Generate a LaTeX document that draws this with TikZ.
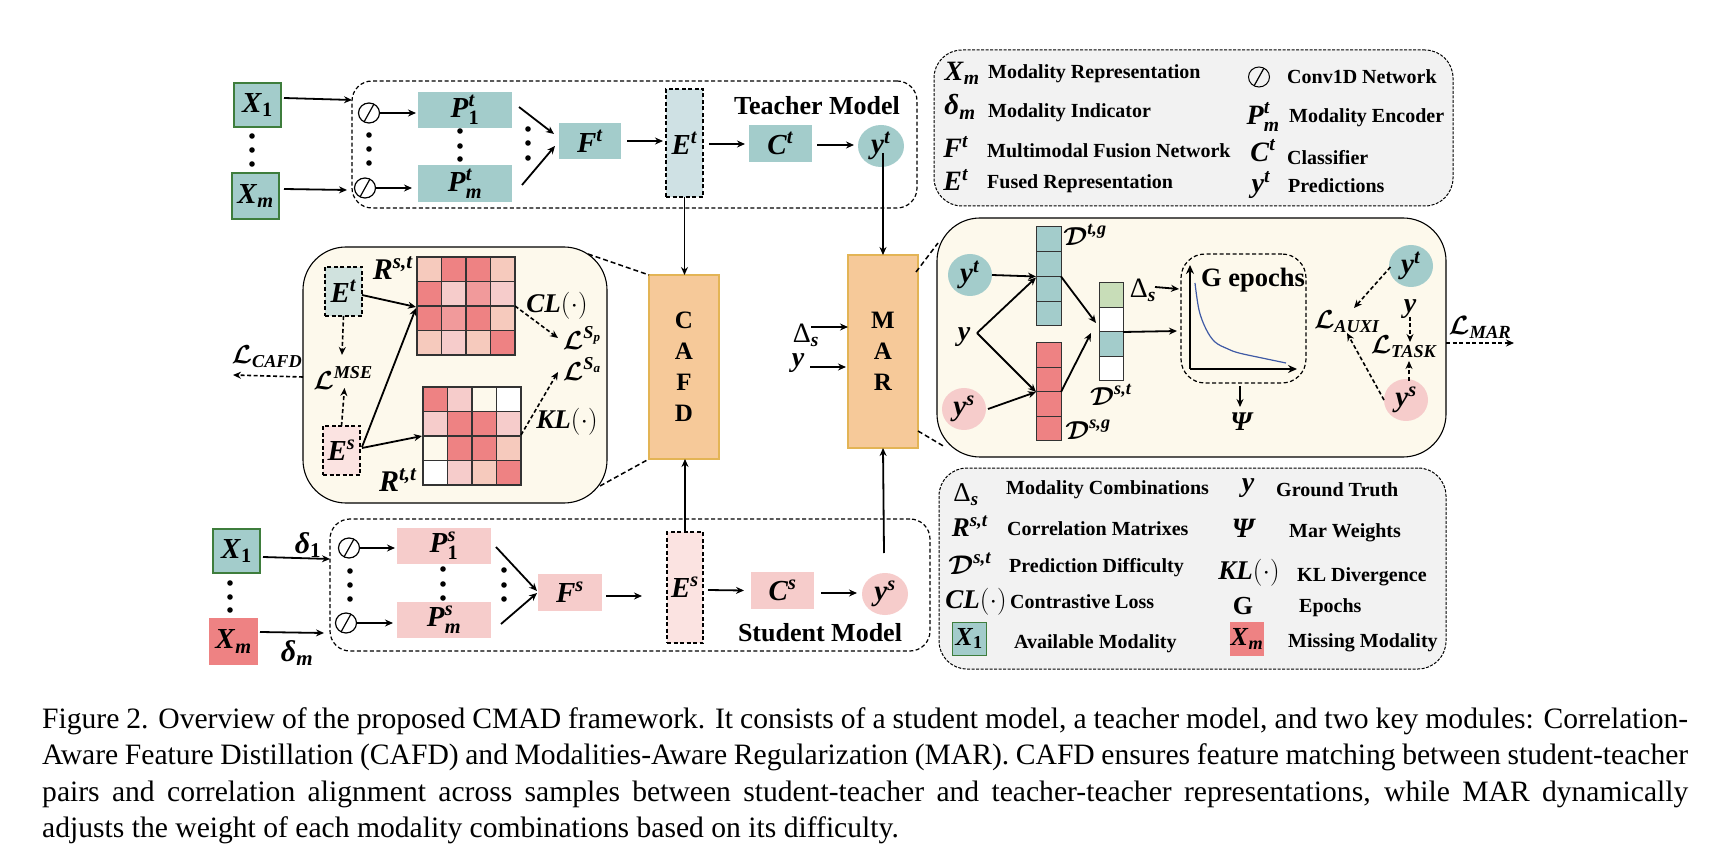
\documentclass[tikz,border=0pt]{standalone}
\usepackage{fix-cm}
\usepackage{amsmath}
\usepackage{fontspec}
\setmainfont{Liberation Serif}
\usetikzlibrary{arrows.meta,shapes.geometric}
\definecolor{teal1}{HTML}{A3CCCB}
\definecolor{green1}{HTML}{3E7D3C}
\definecolor{mr}{HTML}{EE8283}
\definecolor{pk}{HTML}{F6CCCB}
\definecolor{mp}{HTML}{F6CABD}
\definecolor{mm}{HTML}{F19A9B}
\definecolor{mc}{HTML}{FDF9EC}
\definecolor{orng}{HTML}{F6C999}
\definecolor{orngb}{HTML}{E3B455}
\definecolor{etf}{HTML}{CFE1E4}
\definecolor{etp}{HTML}{D0E2DE}
\definecolor{esf}{HTML}{FBE3E1}
\definecolor{lgray}{HTML}{F2F2F2}
\definecolor{gcell}{HTML}{C8DDB8}
\definecolor{ccurve}{HTML}{3F5AA5}
\newcommand\mi[1]{\textbf{\textit{#1}}}
\newcommand\lc{\boldsymbol{\mathcal{L}}}
\newcommand\dc{\boldsymbol{\mathcal{D}}}
\newcommand\bx[7]{\node[#1,minimum width={#5-#3},minimum height={#6-#4}] (#2) at ({(#3+#5)/2},{(#4+#6)/2}) {#7};}
\newcommand\el[7]{\node[#1,minimum width={2*#5},minimum height={2*#6}] (#2) at (#3,#4) {#7};}
\newcommand\lb[5]{\node[inner sep=0,font=\fontsize{#4}{#4}\selectfont] (#1) at (#2,#3) {#5};}
\newcommand\lgt[4]{\node[inner sep=0,anchor=west,font=\bfseries\fontsize{20}{20}\selectfont] (#1) at (#2,#3+1.5) {#4};}
\newcommand\dt[4]{\foreach \yy in {#2,#3,#4} \fill (#1,\yy) circle (2.8pt);}
\newcommand\cells[4]{% x0 y0 cell rows-of colours
  \foreach \rw [count=\j from 0] in {#4} {\foreach \cc [count=\i from 0] in \rw {
    \draw[line width=1.2pt,draw=black!80,fill=\cc] ({#1+\i*#3},{#2+\j*#3}) rectangle ++(#3,#3);}}}
\newcommand\barc[5]{% x0 y0 w h colours
  \foreach \cc [count=\j from 0] in {#5} {\draw[line width=1pt,draw=black!80,fill=\cc] (#1,{#2+\j*#4}) rectangle ++(#3,#4);}}
\tikzset{
  nbase/.style={inner sep=0,outer sep=0,font=\fontsize{29}{29}\selectfont},
  tbox/.style={nbase,fill=teal1},
  sbox/.style={nbase,fill=pk},
  xbox/.style={nbase,fill=teal1,draw=green1,line width=1.4pt},
  mbox/.style={nbase,fill=mr},
  dbox/.style={nbase,draw=black,line width=1.2pt,dash pattern=on 4pt off 2.5pt},
  oval/.style={nbase,ellipse},
  conv/.style={ellipse,inner sep=0,outer sep=0,draw=black,line width=1.2pt,fill=white,minimum width=21pt,minimum height=20pt,
    path picture={\draw[line width=1.2pt] ([shift={(-5,9)}]path picture bounding box.center) -- ([shift={(5,-9)}]path picture bounding box.center);}},
  modbox/.style={rounded corners=20pt,dbox},
  panel/.style={inner sep=0,outer sep=0,draw=black,line width=1.1pt,fill=mc},
  legendbox/.style={inner sep=0,outer sep=0,draw=black,line width=1pt,dash pattern=on 3pt off 1.5pt,fill=lgray,rounded corners=28pt},
  bigbox/.style={inner sep=0,outer sep=0,fill=orng,draw=orngb,line width=1.2pt,align=center,font=\bfseries\fontsize{25}{31}\selectfont},
  arr/.style={line width=1.8pt,-{Stealth[length=8pt,width=7pt]}},
  darr/.style={line width=1.6pt,dash pattern=on 4pt off 2.5pt,-{Stealth[length=8pt,width=7pt]}},
  dln/.style={line width=1.5pt,dash pattern=on 5pt off 3pt},
  captxt/.style={inner sep=0,anchor=base west,font=\fontsize{29.6}{36}\selectfont},
}
\begin{document}
\begin{tikzpicture}[x=1pt,y=-1pt]
\useasboundingbox (0,0) rectangle (1714,858);
\fill[white] (0,0) rectangle (1714,858);

% --- legends
\bx{legendbox}{LegA}{934}{50}{1453}{206}{}
\bx{legendbox}{LegB}{939}{468}{1446}{669}{}

% --- teacher
\bx{modbox}{Tbox}{352}{81}{917}{208}{}
\bx{xbox}{Xa}{234}{83}{281}{127}{$\mi{X}_{\textbf{1}}$}
\bx{xbox}{Xb}{232}{173}{279}{219}{$\mi{X}_{\mi{m}}$}
\dt{252}{136}{150}{164}
\node[conv] (ca) at (369,113) {};
\node[conv] (cb) at (365,188) {};
\dt{369}{135}{149}{163}
\bx{tbox}{Pa}{418}{92}{512}{128}{$\mi{P}_{\textbf{1}}^{\mi{t}}$}
\bx{tbox}{Pb}{418}{165}{512}{202}{$\mi{P}_{\mi{m}}^{\mi{t}}$}
\dt{460}{131}{146}{159}
\dt{528}{129}{143}{158}
\bx{tbox}{Ft}{559}{123}{621}{159}{$\mi{F}^{\mi{t}}$}
\bx{dbox,fill=etf}{Et}{666}{89}{703}{197}{$\mi{E}^{\mi{t}}$}
\bx{tbox}{Ct}{749}{125}{812}{162}{$\mi{C}^{\mi{t}}$}
\el{oval,fill=teal1}{yt}{881}{146}{23}{21}{$\mi{y}^{\mi{t}}$}
\node[inner sep=0,font=\bfseries\fontsize{26}{26}\selectfont] (Tlab) at (817,106) {Teacher Model};
\draw[arr] ([shift={(3,-7)}]Xa.east) -- ([shift={(0,-44.5)}]Tbox.west);
\draw[arr] ([shift={(5,-7)}]Xb.east) -- ([shift={(-5,45.5)}]Tbox.west);
\draw[arr] (ca.east) -- ([shift={(-2,3)}]Pa.west);
\draw[arr] (cb.east) -- ([shift={(-6,4.5)}]Pb.west);
\draw[arr] ([shift={(7,-3)}]Pa.east) -- ([shift={(-5,-7)}]Ft.west);
\draw[arr] ([shift={(10,1.5)}]Pb.east) -- ([shift={(-4,5)}]Ft.west);
\draw[arr] ([shift={(6,0)}]Ft.east) -- ([shift={(-3,-2)}]Et.west);
\draw[arr] ([shift={(6,1)}]Et.east) -- ([shift={(-4,0.5)}]Ct.west);
\draw[arr] ([shift={(5,1.5)}]Ct.east) -- ([shift={(-4,-1)}]yt.west);

% --- student
\bx{modbox}{Sbox}{330}{519}{930}{651}{}
\bx{xbox}{Xc}{213}{529}{260}{573}{$\mi{X}_{\textbf{1}}$}
\bx{mbox}{Xd}{209}{618}{258}{665}{$\mi{X}_{\mi{m}}$}
\dt{230}{583}{597}{610}
\lb{da}{308}{545}{30}{$\mi{δ}_{\textbf{1}}$}
\lb{db}{297}{653}{30}{$\mi{δ}_{\mi{m}}$}
\node[conv] (cc) at (349,548) {};
\node[conv] (cd) at (346,623) {};
\dt{350}{571}{585}{599}
\bx{sbox}{Pc}{397}{528}{491}{564}{$\mi{P}_{\textbf{1}}^{\mi{s}}$}
\bx{sbox}{Pd}{397}{602}{491}{638}{$\mi{P}_{\mi{m}}^{\mi{s}}$}
\dt{443}{569}{584}{598}
\dt{504}{570}{585}{599}
\bx{sbox}{Fs}{538}{574}{602}{611}{$\mi{F}^{\mi{s}}$}
\bx{dbox,fill=esf}{Es}{667}{532}{703}{643}{$\mi{E}^{\mi{s}}$}
\bx{sbox}{Cs}{751}{572}{814}{609}{$\mi{C}^{\mi{s}}$}
\el{oval,fill=pk}{ys}{885}{594}{23}{21}{$\mi{y}^{\mi{s}}$}
\node[inner sep=0,font=\bfseries\fontsize{26}{26}\selectfont] (Slab) at (820,633) {Student Model};
\draw[arr] ([shift={(3,6)}]Xc.east) -- ([shift={(0,-26)}]Sbox.west);
\draw[arr] ([shift={(2,-9.5)}]Xd.east) -- ([shift={(-6,48)}]Sbox.west);
\draw[arr] (cc.east) -- ([shift={(-2,2)}]Pc.west);
\draw[arr] (cd.east) -- ([shift={(-4,3)}]Pd.west);
\draw[arr] ([shift={(5,1)}]Pc.east) -- ([shift={(-1,-1.5)}]Fs.west);
\draw[arr] ([shift={(10,4)}]Pd.east) -- ([shift={(-1,0.5)}]Fs.west);
\draw[arr] ([shift={(4,3.5)}]Fs.east) -- ([shift={(-25,8.5)}]Es.west);
\draw[arr] ([shift={(5,2.5)}]Es.east) -- ([shift={(-7,0)}]Cs.west);
\draw[arr] ([shift={(7,2.5)}]Cs.east) -- ([shift={(-5,-1)}]ys.west);

% --- CAFD panel
\bx{panel,rounded corners=43pt}{Cpan}{303}{247}{607}{503}{}
\bx{bigbox}{CAFD}{649}{275}{719}{459}{C\\A\\F\\D}
\draw[dln] ([shift={(-19,7)}]Cpan.north east) -- (CAFD.north west);
\draw[dln] ([shift={(-7,-17)}]Cpan.south east) -- (CAFD.south west);
\bx{dbox,fill=etp}{Ep}{325}{267}{362}{316}{$\mi{E}^{\mi{t}}$}
\bx{dbox,fill=esf}{Eq}{323}{426}{360}{475}{$\mi{E}^{\mi{s}}$}
\cells{417}{257}{24.5}{{mp,mr,mr,mp},{mr,pk,mm,pk},{mr,mm,mr,mp},{mp,pk,mp,mr}}
\cells{423}{387}{24.5}{{mr,pk,mc,white},{pk,mr,mr,pk},{mc,mr,mr,mp},{white,pk,mp,mr}}
\bx{inner sep=0,outer sep=0}{Rst}{417}{257}{515}{355}{}
\bx{inner sep=0,outer sep=0}{Rtt}{423}{387}{521}{485}{}
\lb{Rlab}{393}{268}{30}{$\mi{R}^{\mi{s,t}}$}
\lb{Rlb}{398}{480}{30}{$\mi{R}^{\mi{t,t}}$}
\lb{CLa}{557}{306}{27}{$\mi{CL}(\cdot)$}
\lb{KLa}{567}{422}{27}{$\mi{KL}(\cdot)$}
\lb{Lsp}{582}{338}{26}{$\lc^{\mi{S}_{\mi{p}}}$}
\lb{Lsa}{582}{369}{26}{$\lc^{\mi{S}_{\mi{a}}}$}
\lb{Lmse}{343}{378}{26}{$\lc^{\mi{MSE}}$}
\lb{Lcafd}{267}{357}{26}{$\lc_{\mi{CAFD}}$}
\coordinate (cafdend) at (233,375);
\draw[arr] ([shift={(0,3.5)}]Ep.east) -- ([shift={(-1,1)}]Rst.west);
\draw[arr] ([shift={(2,-3.5)}]Eq.east) -- ([shift={(-1,2)}]Rst.west);
\draw[arr] ([shift={(2,-2.5)}]Eq.east) -- ([shift={(-1,0)}]Rtt.west);
\draw[darr] (Ep.south) -- ([shift={(-1,-23)}]Lmse.center);
\draw[darr] (Eq.north) -- ([shift={(1.5,10)}]Lmse.center);
\draw[darr] (Rst.east) -- ([shift={(-24,0)}]Lsp.center);
\draw[darr] ([shift={(0,-1)}]Rtt.east) -- ([shift={(-24,3)}]Lsa.center);
\draw[darr] ([shift={(0,2)}]Cpan.west) -- (cafdend);
\draw[arr] (Et.south) -- (Et.south |- CAFD.north);
\draw[arr] (Es.north) -- (Es.north |- CAFD.south);

% --- MAR panel
\bx{panel,rounded corners=43pt}{Mpan}{937}{218}{1446}{457}{}
\bx{bigbox}{MAR}{848}{255}{918}{448}{M\\A\\R}
\draw[dln] ([shift={(-2,17)}]MAR.north east) -- ([shift={(1,25)}]Mpan.north west);
\draw[dln] ([shift={(0,-17)}]MAR.south east) -- ([shift={(8,-10)}]Mpan.south west);
\draw[arr] ([shift={(2,7)}]yt.center) -- (MAR.north);
\draw[arr] ([shift={(-1,-41)}]ys.center) -- (MAR.south);
\lb{Din}{806}{335}{28}{$\textrm{Δ}_{\mi{s}}$}
\lb{yin}{798}{363}{28}{$\mi{y}$}
\draw[arr] ([shift={(5,-8)}]Din.center) -- ([shift={(0,-24.5)}]MAR.west);
\draw[arr] ([shift={(12,4)}]yin.center) -- ([shift={(-2,15.5)}]MAR.west);
\el{oval,fill=teal1}{Yta}{970}{275}{22}{21}{$\mi{y}^{\mi{t}}$}
\el{oval,fill=pk}{Ysa}{964}{409}{22}{21}{$\mi{y}^{\mi{s}}$}
\lb{ymid}{964}{337}{28}{$\mi{y}$}
\barc{1036}{227}{25}{24.75}{teal1,teal1,teal1,teal1}
\barc{1036}{343}{25}{24.5}{mr,mr,mr,mr}
\barc{1099}{283}{24}{24.5}{gcell,white,teal1,white}
\bx{inner sep=0,outer sep=0}{Dtg}{1036}{227}{1061}{326}{}
\bx{inner sep=0,outer sep=0}{Dsg}{1036}{343}{1061}{441}{}
\bx{inner sep=0,outer sep=0}{Dst}{1099}{283}{1123}{381}{}
\lb{Ltg}{1085}{235}{26}{$\dc^{\mi{t,g}}$}
\lb{Lsg}{1088}{430}{26}{$\dc^{\mi{s,g}}$}
\lb{Lst}{1111}{395}{26}{$\dc^{\mi{s,t}}$}
\lb{Dlab}{1143}{290}{28}{$\textrm{Δ}_{\mi{s}}$}
\bx{modbox,rounded corners=24pt}{Gbox}{1181}{254}{1306}{383}{}
\node[inner sep=0,font=\bfseries\fontsize{26.5}{26}\selectfont] (Gtxt) at (1253,280) {G epochs};
\coordinate (axo) at (1190,369);
\coordinate (axy) at (1190,265);
\coordinate (axx) at (1297,369);
\draw[line width=2.5pt,-{Stealth[length=9pt,width=8pt]}] (axo) -- (axy);
\draw[line width=2.5pt,-{Stealth[length=9pt,width=8pt]}] (axo) -- (axx);
\draw[ccurve,line width=1.2pt] plot[smooth,tension=0.6] coordinates {(1195,283) (1199,310) (1206,329) (1215,342) (1228,349) (1239,353) (1262,358) (1286,363)};
\lb{Psi}{1242}{422}{27}{$\mi{Ψ}$}
\el{oval,fill=teal1}{Ytb}{1411}{266}{22}{21}{$\mi{y}^{\mi{t}}$}
\el{oval,fill=pk}{Ysb}{1406}{400}{22}{21}{$\mi{y}^{\mi{s}}$}
\lb{LA}{1347}{322}{26}{$\lc_{\mi{AUXI}}$}
\lb{LT}{1404}{347}{26}{$\lc_{\mi{TASK}}$}
\lb{yr}{1410}{309}{28}{$\mi{y}$}
\lb{LM}{1480}{327}{26.5}{$\lc_{\mi{MAR}}$}
\coordinate (marend) at (1514,343);
\draw[arr] (Yta.east) -- (Dtg.west);
\draw[arr] ([shift={(13,-4)}]ymid.center) -- ([shift={(0,1)}]Dtg.west);
\draw[arr] ([shift={(13,-4)}]ymid.center) -- (Dsg.west);
\draw[arr] ([shift={(2,0)}]Ysa.east) -- (Dsg.west);
\draw[arr] (Dtg.east) -- ([shift={(-3,-9)}]Dst.west);
\draw[arr] (Dsg.east) -- ([shift={(-8,1)}]Dst.west);
\draw[arr] (Dst.east) -- ([shift={(-4,12.5)}]Gbox.west);
\draw[arr] ([shift={(12,-3)}]Dlab.center) -- ([shift={(-2,-29.5)}]Gbox.west);
\draw[arr,line width=1.2pt] ([shift={(-3.5,3)}]Gbox.south) -- ([shift={(-2,-15)}]Psi.center);
\draw[darr] ([shift={(1.5,1)}]Ytb.west) -- ([shift={(7,-14)}]LA.center);
\draw[darr] (Ysb.west) -- ([shift={(0,11)}]LA.center);
\draw[darr,line width=1.2pt] ([shift={(0,8)}]yr.center) -- ([shift={(6,-5)}]LT.center);
\draw[darr,line width=1.2pt] ([shift={(3,2)}]Ysb.north) -- ([shift={(5,14)}]LT.center);
\draw[darr] ([shift={(0,5.5)}]Mpan.east) -- (marend);

% --- legend A contents
\lb{a1}{962}{73}{28}{$\mi{X}_{\mi{m}}$}
\lgt{at1}{988}{72}{Modality Representation}
\lb{a2}{960}{107}{29}{$\mi{δ}_{\mi{m}}$}
\lgt{at2}{988}{111}{Modality Indicator}
\lb{a3}{956}{147}{28}{$\mi{F}^{\mi{t}}$}
\lgt{at3}{987}{149}{Multimodal Fusion Network}
\lb{a4}{956}{180}{28}{$\mi{E}^{\mi{t}}$}
\lgt{at4}{987}{182}{Fused Representation}
\node[conv,fill=none,line width=1pt] (a5) at (1259,77) {};
\lgt{at5}{1287}{75}{Conv1D Network}
\lb{a6}{1263}{117}{28}{$\mi{P}_{\mi{m}}^{\mi{t}}$}
\lgt{at6}{1289}{116}{Modality Encoder}
\lb{a7}{1263}{151}{28}{$\mi{C}^{\mi{t}}$}
\lgt{at7}{1287}{156}{Classifier}
\lb{a8}{1261}{185}{28}{$\mi{y}^{\mi{t}}$}
\lgt{at8}{1288}{184}{Predictions}

% --- legend B contents
\lb{b1}{966}{495}{27}{$\textrm{Δ}_{\mi{s}}$}
\lgt{bt1}{1006}{488.5}{Modality Combinations}
\lb{b2}{970}{526}{27}{$\mi{R}^{\mi{s,t}}$}
\lgt{bt2}{1007}{527}{Correlation Matrixes}
\lb{b3}{970}{564}{27}{$\dc^{\mi{s,t}}$}
\lgt{bt3}{1009}{566}{Prediction Difficulty}
\lb{b4}{976}{602}{27}{$\mi{CL}(\cdot)$}
\lgt{bt4}{1010}{600}{Contrastive Loss}
\bx{xbox,font=\fontsize{26}{26}\selectfont,line width=1pt}{b5}{952}{622}{986}{655}{$\mi{X}_{\textbf{1}}$}
\lgt{bt5}{1014}{642}{Available Modality}
\lb{b6}{1248}{488}{28}{$\mi{y}$}
\lgt{bt6}{1276}{488}{Ground Truth}
\lb{b7}{1244}{528}{28}{$\mi{Ψ}$}
\lgt{bt7}{1289}{531}{Mar Weights}
\lb{b8}{1249}{573}{27}{$\mi{KL}(\cdot)$}
\lgt{bt8}{1297}{575}{KL Divergence}
\lb{b9}{1243}{606}{26}{\textbf{G}}
\lgt{bt9}{1299}{606}{Epochs}
\bx{mbox,font=\fontsize{26}{26}\selectfont}{b10}{1230}{622}{1264}{656}{$\mi{X}_{\mi{m}}$}
\lgt{bt10}{1288}{641}{Missing Modality}

% --- caption
\node[captxt] (capa) at (42,728) {\makebox[1646pt][s]{Figure 2. Overview of the proposed CMAD framework. It consists of a student model, a teacher model, and two key modules: Correlation-}};
\node[captxt] (capb) at (42,764.5) {\makebox[1646pt][s]{Aware Feature Distillation (CAFD) and Modalities-Aware Regularization (MAR). CAFD ensures feature matching between student-teacher}};
\node[captxt] (capc) at (42,801) {\makebox[1646pt][s]{pairs and correlation alignment across samples between student-teacher and teacher-teacher representations, while MAR dynamically}};
\node[captxt] (capd) at (42,837.5) {adjusts the weight of each modality combinations based on its difficulty.};
\end{tikzpicture}
\end{document}
